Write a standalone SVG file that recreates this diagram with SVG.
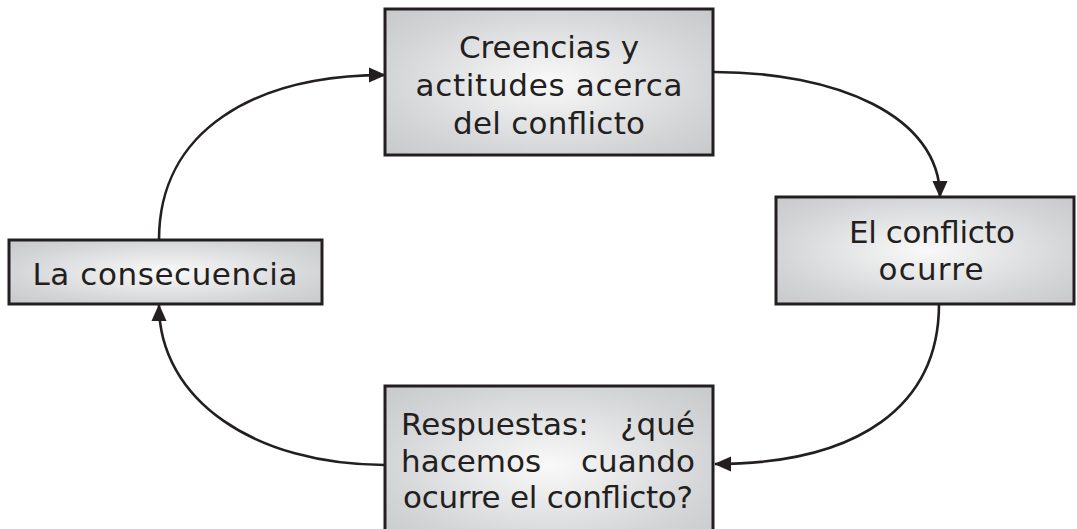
<svg xmlns="http://www.w3.org/2000/svg" width="1077" height="529" viewBox="0 0 1077 529">
<style>
.box{fill:url(#g);stroke:#231f20;stroke-width:3}
.t{font-family:"DejaVu Sans",sans-serif;font-size:31px;fill:#231f20}
.c{fill:none;stroke:#231f20;stroke-width:2.6}
</style>
<defs>
<radialGradient id="g" cx="0.5" cy="0.5" r="0.7">
<stop offset="0" stop-color="#f9f9f9"/>
<stop offset="0.72" stop-color="#d3d4d6"/>
<stop offset="1" stop-color="#c8c9cb"/>
</radialGradient>
<marker id="ah" markerUnits="userSpaceOnUse" markerWidth="18" markerHeight="18" viewBox="0 0 18 18" refX="16" refY="9" orient="auto">
<path d="M0,1.5 L17,9 L0,16.5 Z" fill="#231f20"/>
</marker>
</defs>
<rect width="1077" height="529" fill="#ffffff"/>
<g id="connectors">
<path class="c" d="M714,72 C835,72 940,115 940,197" marker-end="url(#ah)"/>
<path class="c" d="M939,304 C939,405 860,464 715,464" marker-end="url(#ah)"/>
<path class="c" d="M385,465 C255,465 159,400 159,305" marker-end="url(#ah)"/>
<path class="c" d="M159,240 C159,130 255,75 385,75" marker-end="url(#ah)"/>
</g>
<g id="node-creencias">
<rect class="box" x="385" y="9" width="328" height="146"/>
<text class="t" x="549" y="58" text-anchor="middle" textLength="180" lengthAdjust="spacing">Creencias y</text>
<text class="t" x="549" y="96" text-anchor="middle" textLength="267" lengthAdjust="spacing">actitudes acerca</text>
<text class="t" x="549" y="134" text-anchor="middle" textLength="192" lengthAdjust="spacing">del conflicto</text>
</g>
<g id="node-ocurre">
<rect class="box" x="776" y="197" width="298" height="107"/>
<text class="t" x="932" y="243" text-anchor="middle" textLength="166" lengthAdjust="spacing">El conflicto</text>
<text class="t" x="931" y="280" text-anchor="middle" textLength="105" lengthAdjust="spacing">ocurre</text>
</g>
<g id="node-consecuencia">
<rect class="box" x="9" y="240" width="313" height="64"/>
<text class="t" x="165" y="285" text-anchor="middle" textLength="265" lengthAdjust="spacing">La consecuencia</text>
</g>
<g id="node-respuestas">
<rect class="box" x="385" y="386" width="328" height="160"/>
<text class="t" x="401" y="435">Respuestas:</text>
<text class="t" x="695" y="435" text-anchor="end">¿qué</text>
<text class="t" x="401" y="472">hacemos</text>
<text class="t" x="695" y="472" text-anchor="end">cuando</text>
<text class="t" x="403" y="508" textLength="290" lengthAdjust="spacing">ocurre el conflicto?</text>
</g>
</svg>
